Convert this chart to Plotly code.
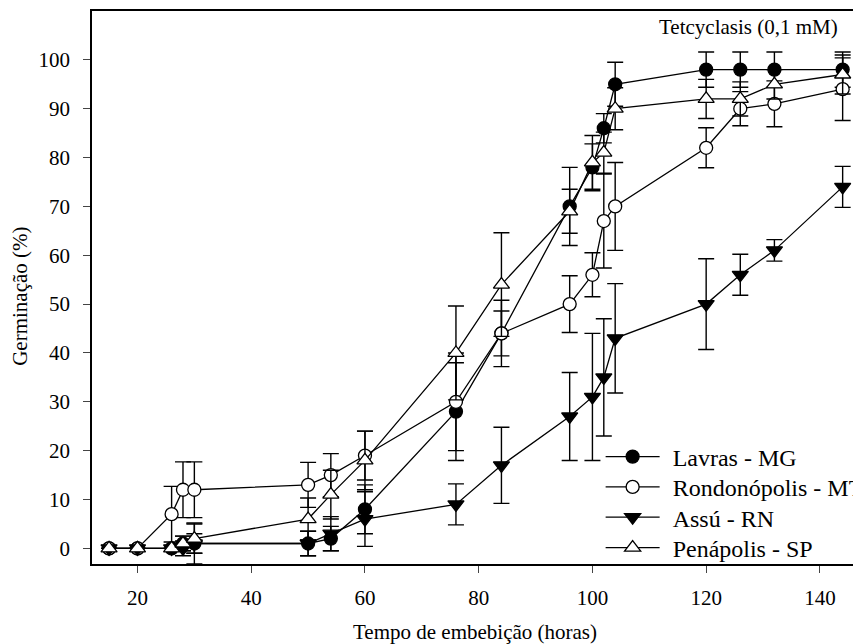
import plotly.graph_objects as go

hours = [15, 20, 26, 28, 30, 50, 54, 60, 76, 84, 96, 100, 102, 104, 120, 126, 132, 144]

lavras = [0, 0, 0, 1, 1, 1, 2, 8, 28, 44, 70, 78, 86, 95, 98, 98, 98, 98]
lavras_err = [0, 0, 0, 1.5, 4.2, 2.5, 2.5, 5, 10, 6.8, 8, 4.8, 3, 4.5, 3.6, 3.6, 3.6, 3.6]

rondon = [0, 0, 7, 12, 12, 13, 15, 19, 30, 44, 50, 56, 67, 70, 82, 90, 91, 94]
rondon_err = [0, 0, 5.7, 5.7, 5.7, 4.6, 4.4, 5, 10, 4.6, 5.8, 4.5, 9.6, 9, 4.1, 3.5, 4.7, 6.4]

assu = [0, 0, 0, 0, 1, 1, 3, 6, 9, 17, 27, 31, 35, 43, 50, 56, 61, 74]
assu_err = [0, 0, 0, 1.5, 2, 2.5, 3.5, 5.6, 4.2, 7.8, 9, 13, 12, 11.2, 9.3, 4.2, 2.2, 4.2]

penap = [0, 0, 0, 1, 2, 6, 11, 18, 40, 54, 69, 79, 81, 90, 92, 92, 95, 97]
penap_err = [0, 0, 0, 1.5, 3, 4.3, 5, 6, 9.6, 10.6, 4.5, 5.5, 4.2, 4.3, 4, 3.5, 3, 4]

series = [
    ("Lavras - MG", lavras, lavras_err, "circle", "black"),
    ("Rondonópolis - MT", rondon, rondon_err, "circle", "white"),
    ("Assú - RN", assu, assu_err, "triangle-down", "black"),
    ("Penápolis - SP", penap, penap_err, "triangle-up", "white"),
]
legend_y = [0.1935, 0.1387, 0.0839, 0.0289]

FONT = "Liberation Serif"
F21 = dict(family=FONT, size=21, color="black")
PAD = "\u00a0\u200a"

fig = go.Figure()
legends = {}
for i, (name, vals, errs, sym, fill) in enumerate(series):
    lname = "legend" if i == 0 else f"legend{i + 1}"
    fig.add_trace(go.Scatter(
        x=hours, y=vals, name=PAD + name, mode="lines+markers", legend=lname,
        line=dict(color="black", width=1.3),
        marker=dict(symbol=sym, size=13 if "circle" in sym else 14, color=fill,
                    line=dict(color="black", width=1.3)),
        error_y=dict(type="data", array=errs, visible=True, color="black",
                     thickness=1.4, width=8),
    ))
    legends[lname] = dict(x=0.664, y=legend_y[i], xanchor="left", yanchor="middle",
                          bgcolor="rgba(0,0,0,0)", borderwidth=0,
                          font=dict(size=24, family=FONT, color="black"),
                          itemwidth=54)

fig.update_layout(
    width=853, height=636,
    margin=dict(l=84, r=3, t=3, b=80, autoexpand=False),
    paper_bgcolor="white", plot_bgcolor="white",
    font=F21,
    showlegend=True,
    annotations=[
        dict(text="Tetcyclasis (0,1 mM)", xref="paper", yref="paper",
             x=0.976, y=0.971, xanchor="right", yanchor="middle",
             showarrow=False, font=F21),
        dict(text="Germinação (%)", xref="paper", yref="paper",
             x=-0.094, y=0.485, xanchor="center", yanchor="middle", textangle=-90,
             showarrow=False, font=F21, borderpad=0),
    ],
    **legends,
)
fig.update_xaxes(range=[12, 146.7], tickvals=[20, 40, 60, 80, 100, 120, 140],
                 ticks="outside", ticklen=7, tickwidth=1.3, showgrid=False, zeroline=False,
                 showline=True, linecolor="black", linewidth=1.5, mirror=True,
                 automargin=False, ticklabelposition="outside",
                 title=dict(text="Tempo de embebição (horas)", standoff=20, font=F21),
                 tickfont=F21, ticklabelstandoff=7)
fig.update_yaxes(range=[-3.2, 110], tickvals=[0, 10, 20, 30, 40, 50, 60, 70, 80, 90, 100],
                 ticks="outside", ticklen=7, tickwidth=1.3, showgrid=False, zeroline=False,
                 showline=True, linecolor="black", linewidth=1.5, mirror=True,
                 automargin=False, ticklabelposition="outside",
                 tickfont=F21, ticklabelstandoff=9)

fig.write_html("out.html")
